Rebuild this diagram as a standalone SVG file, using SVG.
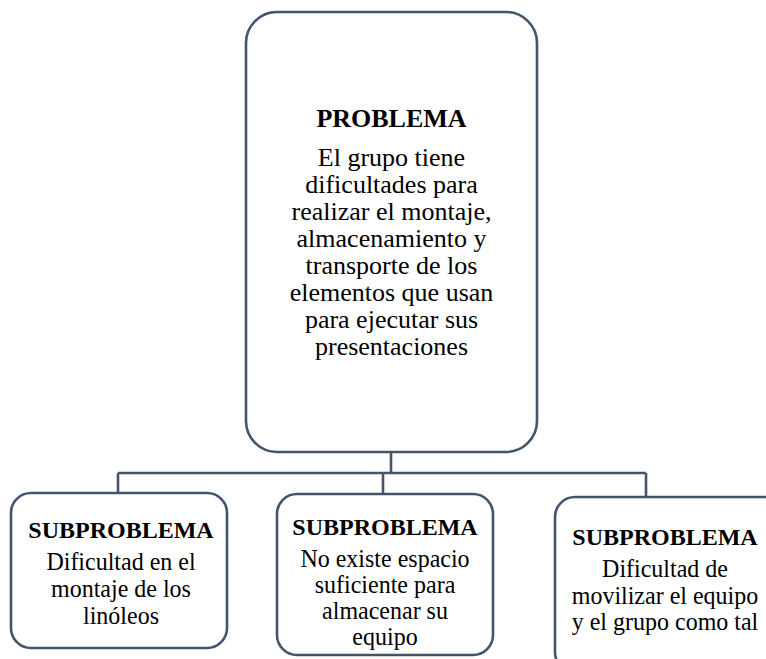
<svg xmlns="http://www.w3.org/2000/svg" width="766" height="659" viewBox="0 0 766 659">
<style>
.box{fill:#ffffff;stroke:#44546A;stroke-width:2.6}
.conn{fill:none;stroke:#44546A;stroke-width:2.6}
text{font-family:"Liberation Serif","Times New Roman",serif;fill:#000;text-anchor:middle}
.h{font-weight:bold}
.m{font-size:26px}
.s{font-size:24px}
</style>
<rect width="766" height="659" fill="#ffffff"/>
<g id="connectors">
<path class="conn" d="M391,452 V473 M118,473 H646 M118,473 V493 M383,473 V494 M646,473 V497"/>
</g>
<g id="problema">
<rect class="box" x="246" y="12" width="291" height="440" rx="31" ry="31"/>
<text class="m h" x="391.5" y="127">PROBLEMA</text>
<text class="m" x="391.5" y="166">El grupo tiene</text>
<text class="m" x="391.5" y="193">dificultades para</text>
<text class="m" x="391.5" y="220">realizar el montaje,</text>
<text class="m" x="391.5" y="247">almacenamiento y</text>
<text class="m" x="391.5" y="274">transporte de los</text>
<text class="m" x="391.5" y="301">elementos que usan</text>
<text class="m" x="391.5" y="328">para ejecutar sus</text>
<text class="m" x="391.5" y="355">presentaciones</text>
</g>
<g id="sub1">
<rect class="box" x="11" y="493" width="216" height="155" rx="20" ry="20"/>
<text class="s h" x="121" y="538">SUBPROBLEMA</text>
<text class="s" transform="translate(121,570) scale(1,1.08)">Dificultad en el</text>
<text class="s" transform="translate(121,597) scale(1,1.08)">montaje de los</text>
<text class="s" transform="translate(121,624) scale(1,1.08)">linóleos</text>
</g>
<g id="sub2">
<rect class="box" x="277" y="494" width="216" height="161" rx="20" ry="20"/>
<text class="s h" x="385" y="535">SUBPROBLEMA</text>
<text class="s" transform="translate(385,567) scale(1,1.08)">No existe espacio</text>
<text class="s" transform="translate(385,593) scale(1,1.08)">suficiente para</text>
<text class="s" transform="translate(385,619) scale(1,1.08)">almacenar su</text>
<text class="s" transform="translate(385,645) scale(1,1.08)">equipo</text>
</g>
<g id="sub3">
<rect class="box" x="555" y="497" width="232" height="175" rx="20" ry="20"/>
<text class="s h" x="665" y="545">SUBPROBLEMA</text>
<text class="s" transform="translate(665,577) scale(1,1.08)">Dificultad de</text>
<text class="s" transform="translate(665,604) scale(1,1.08)">movilizar el equipo</text>
<text class="s" transform="translate(665,630) scale(1,1.08)">y el grupo como tal</text>
</g>
</svg>
